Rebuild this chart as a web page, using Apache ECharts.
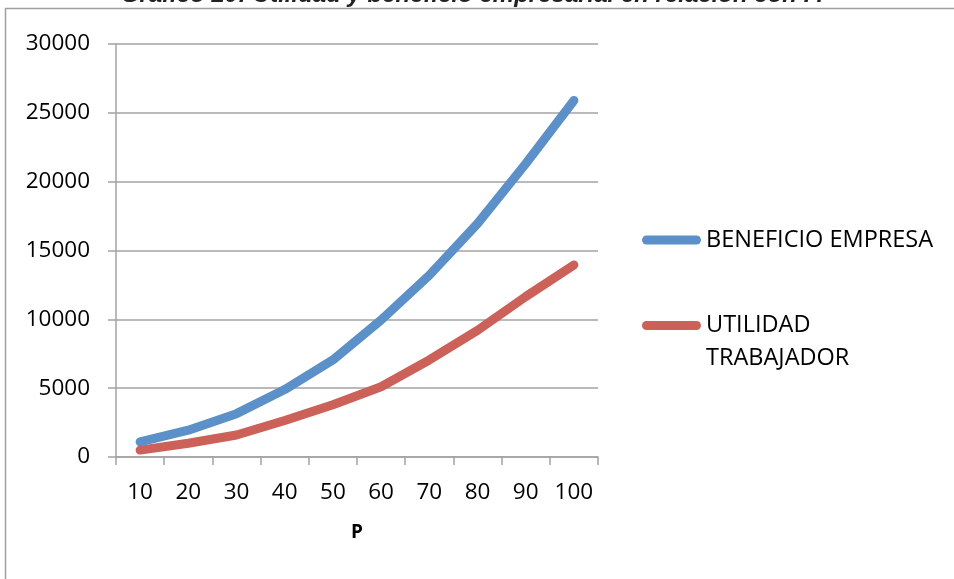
<!DOCTYPE html>
<html>
<head>
<meta charset="utf-8">
<script src="https://cdn.jsdelivr.net/npm/echarts@6/dist/echarts.min.js"></script>
<style>
  html, body { margin: 0; padding: 0; background: #fff; }
  #chart { width: 954px; height: 579px; }
</style>
</head>
<body>
<div id="chart"></div>
<script>
// P values on the horizontal axis
const categories = ['10', '20', '30', '40', '50', '60', '70', '80', '90', '100'];
// Series values
const beneficioEmpresa = [1100, 1950, 3150, 4900, 7050, 9950, 13200, 16950, 21300, 25900];
const utilidadTrabajador = [500, 1000, 1600, 2650, 3800, 5100, 7050, 9200, 11650, 13950];
// Series names
const seriesNames = ['BENEFICIO EMPRESA', 'UTILIDAD TRABAJADOR'];
const titleText = 'Gráfico 20: Utilidad y beneficio empresarial en relación con P.';

const FONT = '"Open Sans", "Liberation Sans", sans-serif';
const GRID_COLOR = '#a3a3a3';
const BLUE = '#5b90c8';
const RED = '#cb6159';
// rounded bar used as legend key
const pill = 'path://M4.5,0 H54.5 A4.5,4.5 0 0 1 54.5,9 H4.5 A4.5,4.5 0 0 1 4.5,0 Z';

const chart = echarts.init(document.getElementById('chart'), null, { renderer: 'canvas' });

chart.setOption({
  animation: false,
  backgroundColor: '#ffffff',
  graphic: [
    {
      type: 'rect',
      z: -1,
      shape: { x: 5.5, y: 8.5, width: 1000, height: 1000 },
      style: { fill: 'none', stroke: '#a0a0a0', lineWidth: 1.5 }
    },
    {
      type: 'text',
      x: 472,
      y: 7,
      style: {
        text: titleText,
        fill: '#222',
        font: 'italic bold 24px "Liberation Sans", Arial, sans-serif',
        textAlign: 'center',
        textVerticalAlign: 'bottom'
      }
    }
  ],
  grid: { left: 116, right: 356, top: 44, bottom: 122, containLabel: false },
  legend: [
    {
      data: [seriesNames[0]],
      left: 642,
      top: 228,
      padding: 0,
      itemWidth: 59,
      itemHeight: 9,
      icon: pill,
      selectedMode: false,
      textStyle: { fontFamily: FONT, fontSize: 23.5, color: '#000' }
    },
    {
      data: [seriesNames[1]],
      left: 642,
      top: 276,
      padding: 0,
      itemWidth: 59,
      itemHeight: 9,
      icon: pill,
      selectedMode: false,
      // leading blank line keeps the first word level with the key
      formatter: () => ' \nUTILIDAD\nTRABAJADOR',
      textStyle: { fontFamily: FONT, fontSize: 23.5, color: '#000', lineHeight: 33 }
    }
  ],
  xAxis: {
    type: 'category',
    data: categories,
    boundaryGap: true,
    name: 'P',
    nameLocation: 'middle',
    nameGap: 66,
    nameTextStyle: { fontFamily: FONT, fontSize: 19, fontWeight: 'bold', color: '#000' },
    axisLine: { lineStyle: { color: GRID_COLOR, width: 1.5 } },
    axisTick: { show: true, alignWithLabel: false, length: 8, lineStyle: { color: GRID_COLOR, width: 1.5 } },
    axisLabel: { fontFamily: FONT, fontSize: 22.5, color: '#000', margin: 24, interval: 0 },
    splitLine: { show: false }
  },
  yAxis: {
    type: 'value',
    min: 0,
    max: 30000,
    interval: 5000,
    axisLine: { show: true, lineStyle: { color: GRID_COLOR, width: 1.5 } },
    axisTick: { show: true, inside: false, length: 8, lineStyle: { color: GRID_COLOR, width: 1.5 } },
    axisLabel: { fontFamily: FONT, fontSize: 22.5, color: '#000', margin: 26, formatter: v => String(v) },
    splitLine: { show: true, lineStyle: { color: GRID_COLOR, width: 1.5 } }
  },
  series: [
    {
      name: seriesNames[0],
      type: 'line',
      data: beneficioEmpresa,
      showSymbol: false,
      symbol: 'none',
      color: BLUE,
      lineStyle: { color: BLUE, width: 9, cap: 'round', join: 'round' },
      z: 3
    },
    {
      name: seriesNames[1],
      type: 'line',
      data: utilidadTrabajador,
      showSymbol: false,
      symbol: 'none',
      color: RED,
      lineStyle: { color: RED, width: 9, cap: 'round', join: 'round' },
      z: 2
    }
  ]
});
</script>
</body>
</html>
